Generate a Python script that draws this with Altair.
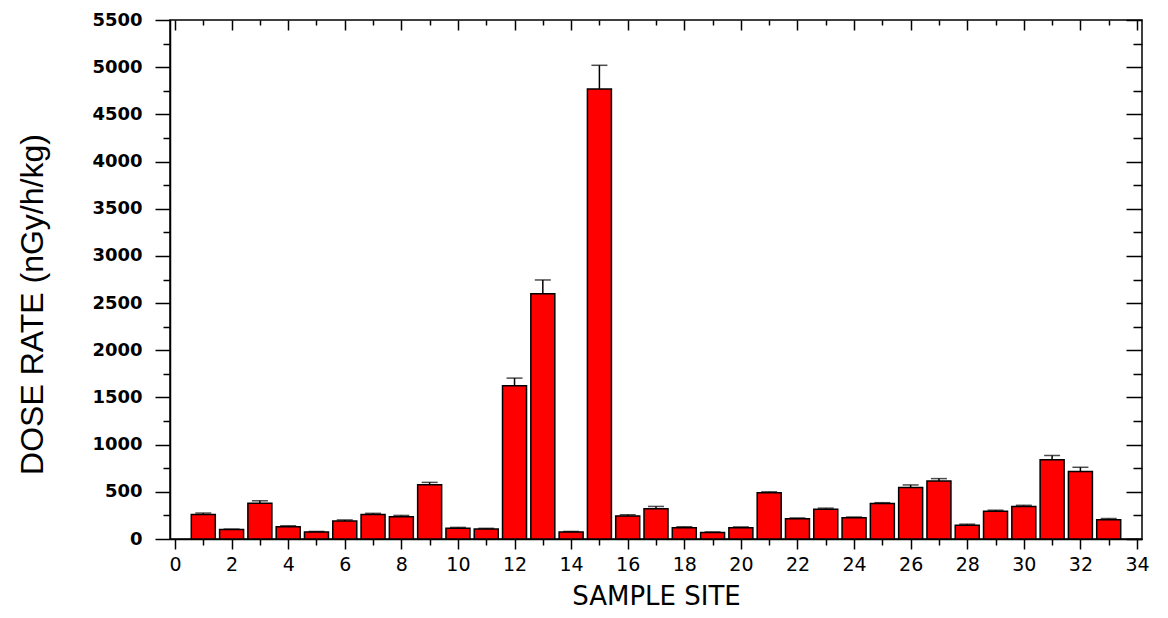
import altair as alt
import pandas as pd

# ---- data ----
sites = list(range(1, 34))
dose = [260, 100, 380, 130, 75, 190, 260, 235, 575, 115, 105, 1625, 2600, 75, 4770,
        245, 320, 120, 70, 120, 490, 215, 315, 225, 375, 545, 615, 145, 295, 345,
        840, 715, 205]
err = [15, 5, 25, 10, 5, 12, 12, 15, 25, 8, 8, 80, 145, 5, 250,
       12, 25, 10, 5, 8, 10, 8, 12, 8, 10, 28, 25, 12, 10, 12,
       45, 45, 12]

x_major = list(range(0, 35, 2))
x_minor = list(range(1, 34, 2))
y_major = list(range(0, 5501, 500))
y_minor = list(range(250, 5500, 500))

df = pd.DataFrame({"site": sites, "dose": dose, "err": err})
df["top"] = df["dose"] + df["err"]

xs = alt.Scale(domain=[0, 34], nice=False, zero=False)
ys = alt.Scale(domain=[0, 5500], nice=False)

base = alt.Chart(df)

bars = base.mark_bar(size=24, color="#FF0000", stroke="black", strokeWidth=1.5).encode(
    x=alt.X("site:Q", scale=xs, axis=alt.Axis(
        values=x_major, tickSize=10, title="SAMPLE SITE", orient="bottom",
        labelFont="DejaVu Sans", labelFontSize=19, labelPadding=6,
        labelFlush=False, labelOverlap=False, labelBound=False,
        titleFont="DejaVu Sans", titleFontSize=26, titleFontWeight="normal",
        titlePadding=9, format="d")),
    y=alt.Y("dose:Q", scale=ys, axis=alt.Axis(
        values=y_major, tickSize=15, title="DOSE RATE (nGy/h/kg)", orient="left",
        labelFont="DejaVu Sans", labelFontSize=18, labelFontWeight="bold",
        labelPadding=13, labelOverlap=False, labelBound=False, format="d",
        titleFont="Liberation Sans", titleFontSize=32,
        titleFontWeight="normal", titleAngle=270, titleAlign="center",
        titleBaseline="alphabetic", titleX=-128, titleY=284)),
)

rules = base.mark_rule(color="black", strokeWidth=1.5).encode(
    x=alt.X("site:Q", scale=xs, axis=None),
    y=alt.Y("dose:Q", scale=ys, axis=None),
    y2="top:Q",
)

caps = base.mark_tick(orient="horizontal", size=16, thickness=1.5, color="black").encode(
    x=alt.X("site:Q", scale=xs, axis=None),
    y=alt.Y("top:Q", scale=ys, axis=None),
)


def ghost(xaxis, yaxis):
    return base.mark_point(opacity=0).encode(
        x=alt.X("site:Q", scale=xs, axis=xaxis),
        y=alt.Y("dose:Q", scale=ys, axis=yaxis),
    )


def tick_axis(orient, values, size, offset=0):
    return alt.Axis(orient=orient, values=values, tickSize=size, offset=offset,
                    labels=False, domain=False, title=None, grid=False)


minor_lb = ghost(tick_axis("bottom", x_minor, 6), tick_axis("left", y_minor, 7))
major_tr = ghost(tick_axis("top", x_major, 10, -10), tick_axis("right", y_major, 16, -16))
minor_tr = ghost(tick_axis("top", x_minor, 5, -5), tick_axis("right", y_minor, 9, -9))

chart = (
    alt.layer(bars, rules, caps, minor_lb, major_tr, minor_tr)
    .resolve_axis(x="independent", y="independent")
    .properties(
        width=972, height=519,
        autosize=alt.AutoSizeParams(type="none"),
        padding={"left": 170, "top": 20, "right": 26, "bottom": 79},
    )
    .configure_view(stroke="black", strokeWidth=1.5)
    .configure_axis(grid=False, tickColor="black", domainColor="black",
                    tickWidth=1.5, domainWidth=1.5, labelColor="black",
                    titleColor="black")
)

chart.save("out.html", embed_options={"renderer": "svg", "actions": False})
